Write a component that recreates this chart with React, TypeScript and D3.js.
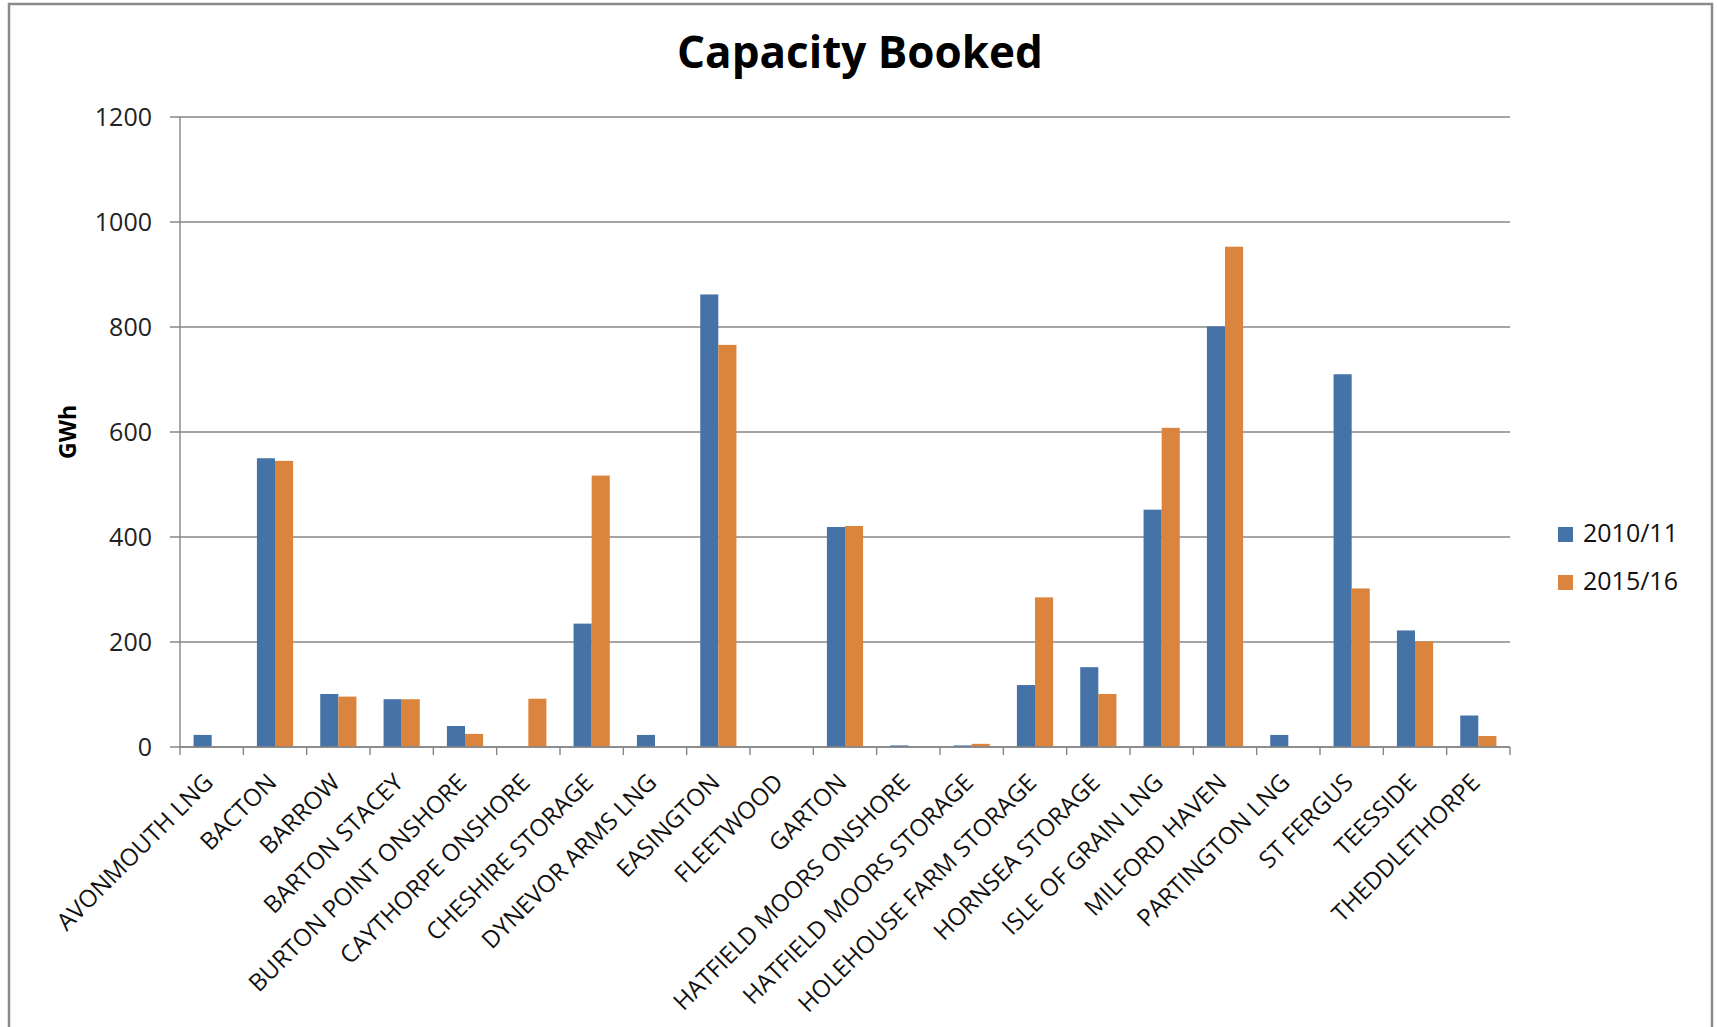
import React from 'react';
import * as d3 from 'd3';

// Entry points (x axis categories)
const categories = [
  'AVONMOUTH LNG', 'BACTON', 'BARROW', 'BARTON STACEY', 'BURTON POINT ONSHORE',
  'CAYTHORPE ONSHORE', 'CHESHIRE STORAGE', 'DYNEVOR ARMS LNG', 'EASINGTON', 'FLEETWOOD',
  'GARTON', 'HATFIELD MOORS ONSHORE', 'HATFIELD MOORS STORAGE', 'HOLEHOUSE FARM STORAGE',
  'HORNSEA STORAGE', 'ISLE OF GRAIN LNG', 'MILFORD HAVEN', 'PARTINGTON LNG', 'ST FERGUS',
  'TEESSIDE', 'THEDDLETHORPE',
];

const seriesNames = ['2010/11', '2015/16'];

// GWh booked
const booked2010 = [23, 550, 101, 91, 40, 0, 235, 23, 862, 0, 419, 3, 3, 118, 152, 452, 801, 23, 710, 222, 60];
const booked2015 = [0, 545, 96, 91, 25, 92, 517, 0, 766, 0, 421, 0, 6, 285, 101, 608, 953, 0, 302, 201, 21];

const yTicks = [0, 200, 400, 600, 800, 1000, 1200];

const colors = ['#4572A7', '#DB843D'];
const gridColor = '#868686';
const font = '"Open Sans", sans-serif';

const W = 1717;
const H = 1027;
const plot = { left: 180, right: 1510, top: 117, bottom: 747 };

const App: React.FC = () => {
  const x0 = d3.scaleBand<string>()
    .domain(categories)
    .range([plot.left, plot.right])
    .padding(0);

  // Excel gap width 150%: bar = category / 3.5
  const x1 = d3.scaleBand<string>()
    .domain(seriesNames)
    .range([0, x0.bandwidth()])
    .paddingInner(0)
    .paddingOuter(0.75);

  const y = d3.scaleLinear()
    .domain([0, 1200])
    .range([plot.bottom, plot.top]);

  const values = [booked2010, booked2015];
  const boundaries = d3.range(categories.length + 1).map(i => plot.left + i * x0.step());

  return (
    <svg
      width={W}
      height={H}
      style={{ position: 'absolute', left: 0, top: 0, background: '#fff' }}
    >
      {/* chart border */}
      <rect x={9} y={4} width={1703} height={1100} fill="#fff" stroke="#8a8a8a" strokeWidth={2.5} />

      {/* title */}
      <text
        x={860}
        y={68}
        textAnchor="middle"
        fontFamily={font}
        fontWeight={700}
        fontSize={44}
        fill="#000"
      >
        Capacity Booked
      </text>

      {/* gridlines + y ticks */}
      {yTicks.map(t => (
        <g key={t}>
          <line
            x1={plot.left - 10}
            x2={plot.right}
            y1={y(t)}
            y2={y(t)}
            stroke={gridColor}
            strokeWidth={1.4}
          />
          <text
            x={152}
            y={y(t) + 9}
            textAnchor="end"
            fontFamily={font}
            fontSize={25}
            fill="#222"
          >
            {t}
          </text>
        </g>
      ))}

      {/* y axis line */}
      <line x1={plot.left} x2={plot.left} y1={plot.top} y2={plot.bottom} stroke={gridColor} strokeWidth={1.4} />

      {/* y axis title */}
      <text
        transform={`translate(76, 432) rotate(-90)`}
        textAnchor="middle"
        fontFamily={font}
        fontWeight={700}
        fontSize={23}
        fill="#000"
      >
        GWh
      </text>

      {/* bars */}
      {values.map((series, si) => (
        <g key={seriesNames[si]} fill={colors[si]}>
          {series.map((v, i) => (
            v > 0 ? (
              <rect
                key={categories[i]}
                x={(x0(categories[i]) || 0) + (x1(seriesNames[si]) || 0)}
                y={y(v)}
                width={x1.bandwidth()}
                height={plot.bottom - y(v)}
              />
            ) : null
          ))}
        </g>
      ))}

      {/* x axis line and ticks */}
      <line x1={plot.left} x2={plot.right} y1={plot.bottom} y2={plot.bottom} stroke={gridColor} strokeWidth={1.4} />
      {boundaries.map((bx, i) => (
        <line key={i} x1={bx} x2={bx} y1={plot.bottom} y2={plot.bottom + 8} stroke={gridColor} strokeWidth={1.4} />
      ))}

      {/* category labels */}
      {categories.map(c => {
        const cx = (x0(c) || 0) + x0.bandwidth() / 2;
        return (
          <text
            key={c}
            transform={`translate(${cx + 3}, 784) rotate(-45)`}
            textAnchor="end"
            fontFamily={font}
            fontSize={24}
            fill="#111"
          >
            {c}
          </text>
        );
      })}

      {/* legend */}
      {seriesNames.map((s, i) => (
        <g key={s} transform={`translate(1558, ${527 + i * 48})`}>
          <rect width={15} height={15} fill={colors[i]} />
          <text x={25} y={15} fontFamily={font} fontSize={25} fill="#111">
            {s}
          </text>
        </g>
      ))}
    </svg>
  );
};

export default App;
